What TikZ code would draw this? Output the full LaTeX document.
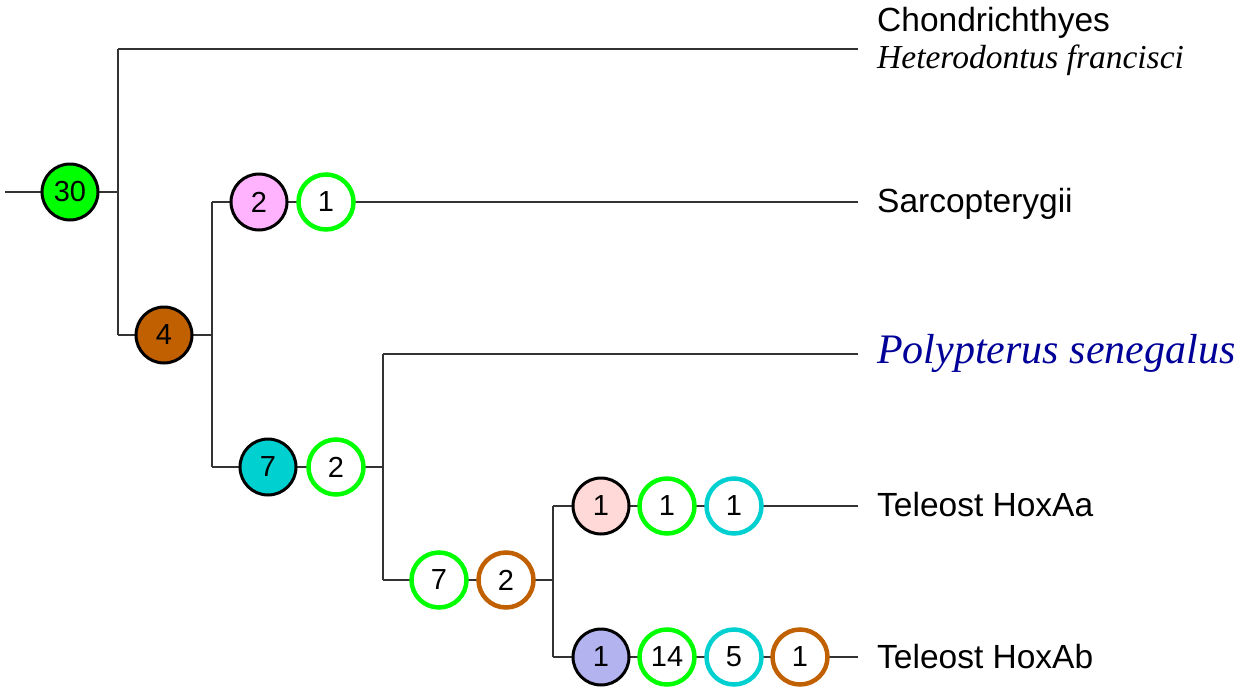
\documentclass[tikz,border=0pt]{standalone}
\usepackage{fontspec}
\setmainfont{Liberation Sans}
\newfontfamily\serifit{Liberation Serif}
\definecolor{cgreen}{HTML}{00FF00}
\definecolor{cbrown}{HTML}{C06000}
\definecolor{cpink}{HTML}{FFB3FF}
\definecolor{ccyan}{HTML}{00D0D0}
\definecolor{clpink}{HTML}{FFD8D8}
\definecolor{clav}{HTML}{B3B3F0}
\definecolor{cblue}{HTML}{000099}
\begin{document}
\begin{tikzpicture}[x=1pt,y=-1pt,
  br/.style={line width=1.1pt,draw=black!80},
  gain/.style={circle,draw=black,line width=3pt,minimum size=56pt,inner sep=0pt,font=\fontsize{29}{29}\selectfont},
  loss/.style={circle,fill=white,line width=4.5pt,minimum size=55pt,inner sep=0pt,font=\fontsize{29}{29}\selectfont},
  taxon/.style={anchor=base west,inner sep=0pt,font=\fontsize{33.5}{34}\selectfont},
  species/.style={anchor=base west,inner sep=0pt,font=\fontsize{33.5}{34}\serifit\itshape},
]
\useasboundingbox (0,0) rectangle (1239,688);
% branch points
\coordinate (r0) at (5,192);
\coordinate (b1) at (118,192);
\coordinate (b1t) at (118,49);
\coordinate (b1b) at (118,335);
\coordinate (b2) at (212,335);
\coordinate (b2t) at (212,202);
\coordinate (b2b) at (212,467);
\coordinate (b3) at (383,467);
\coordinate (b3t) at (383,354);
\coordinate (b3b) at (383,580);
\coordinate (b4) at (553,580);
\coordinate (b4t) at (553,506);
\coordinate (b4b) at (553,657);
\coordinate (e1) at (858,49);
\coordinate (e2) at (858,202);
\coordinate (e3) at (858,354);
\coordinate (e4) at (858,506);
\coordinate (e5) at (858,657);
% edges
\draw[br] (r0) -- (b1);
\draw[br] (b1t) -- (b1b);
\draw[br] (b1t) -- (e1);
\draw[br] (b1b) -- (b2);
\draw[br] (b2t) -- (b2b);
\draw[br] (b2t) -- (e2);
\draw[br] (b2b) -- (b3);
\draw[br] (b3t) -- (b3b);
\draw[br] (b3t) -- (e3);
\draw[br] (b3b) -- (b4);
\draw[br] (b4t) -- (b4b);
\draw[br] (b4t) -- (e4);
\draw[br] (b4b) -- (e5);
% event circles
\node[gain,fill=cgreen] (n30) at (70,192) {30};
\node[gain,fill=cbrown] (n4) at (164,335) {4};
\node[gain,fill=cpink] (s2) at (259,202) {2};
\node[loss,draw=cgreen] (s1) at (326,202) {1};
\node[gain,fill=ccyan] (c7) at (268,467) {7};
\node[loss,draw=cgreen] (c2) at (336,467) {2};
\node[loss,draw=cgreen] (t7) at (439,580) {7};
\node[loss,draw=cbrown] (t2) at (506,580) {2};
\node[gain,fill=clpink] (a1) at (601,506) {1};
\node[loss,draw=cgreen] (a2) at (667,506) {1};
\node[loss,draw=ccyan] (a3) at (734,506) {1};
\node[gain,fill=clav] (b1n) at (601,657) {1};
\node[loss,draw=cgreen] (b2n) at (667,657) {14};
\node[loss,draw=ccyan] (b3n) at (734,657) {5};
\node[loss,draw=cbrown] (b4n) at (800,657) {1};
% labels
\node[taxon] (l1) at (877,31) {Chondrichthyes};
\node[species] (l1b) at (877,68) {Heterodontus francisci};
\node[taxon] (l2) at (877,212) {Sarcopterygii};
\node[species,font=\fontsize{42}{43}\serifit\itshape,text=cblue] (l3) at (877,363) {Polypterus senegalus};
\node[taxon] (l4) at (877,516) {Teleost HoxAa};
\node[taxon] (l5) at (877,668) {Teleost HoxAb};
\end{tikzpicture}
\end{document}
